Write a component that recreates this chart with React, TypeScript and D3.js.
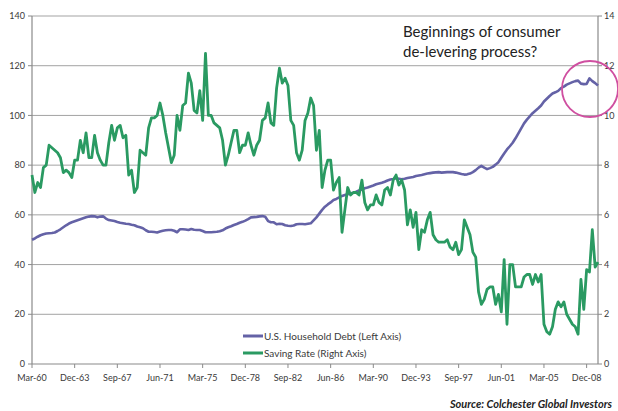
import React from "react";
import * as d3 from "d3";

// Quarterly data, Q1 1960 .. Q4 2009 (200 quarters)
const householdDebt: number[] = [
  50.0, 50.5, 51.2, 51.8, 52.2, 52.5, 52.6, 52.7, 52.9, 53.5,
  54.2, 55.0, 55.8, 56.5, 57.0, 57.4, 57.8, 58.2, 58.6, 59.0,
  59.3, 59.5, 59.4, 59.0, 59.3, 59.4, 58.5, 57.9, 57.7, 57.5,
  57.1, 56.8, 56.6, 56.4, 56.3, 56.0, 55.8, 55.3, 55.0, 54.6,
  53.8, 53.2, 53.2, 53.1, 52.9, 53.3, 53.6, 53.8, 53.9, 53.9,
  53.6, 53.0, 54.2, 54.2, 54.1, 53.9, 54.3, 54.0, 53.9, 53.9,
  53.5, 53.0, 53.0, 53.0, 53.1, 53.2, 53.4, 53.8, 54.5, 55.0,
  55.4, 55.9, 56.3, 56.8, 57.2, 57.7, 58.3, 59.0, 59.1, 59.2,
  59.4, 59.5, 59.2, 57.5, 57.0, 57.0, 56.2, 56.4, 56.3, 55.8,
  55.6, 55.5, 55.7, 56.2, 56.3, 56.3, 56.2, 56.4, 56.6, 57.8,
  59.0, 60.5, 62.0, 63.3, 64.2, 65.0, 66.0, 66.4, 67.0, 67.6,
  68.0, 68.3, 68.7, 68.9, 69.3, 69.8, 70.2, 70.7, 71.0, 71.4,
  71.8, 72.3, 72.6, 72.9, 73.3, 73.8, 74.2, 74.4, 74.7, 74.5,
  74.3, 74.5, 74.8, 75.0, 75.2, 75.6, 75.8, 76.0, 76.3, 76.6,
  76.8, 77.0, 77.1, 77.2, 77.0, 77.1, 77.2, 77.2, 77.2, 77.0,
  76.7, 76.4, 76.2, 76.3, 76.6, 77.2, 78.0, 79.0, 79.7, 79.0,
  78.4, 78.8, 79.3, 80.2, 81.2, 83.0, 84.7, 86.3, 87.6, 89.0,
  90.8, 92.8, 94.8, 96.8, 98.3, 99.6, 100.9, 101.9, 102.9, 104.0,
  105.6, 106.7, 107.8, 108.8, 109.3, 109.9, 111.0, 111.6, 112.4, 112.9,
  113.4, 113.8, 114.0, 112.8, 112.6, 112.7, 114.9, 113.8, 113.0, 112.0,
];

const savingRate: number[] = [
  7.6, 6.9, 7.3, 7.1, 7.9, 8.0, 8.8, 8.7, 8.6, 8.5,
  8.3, 7.7, 7.8, 7.7, 7.5, 8.2, 8.2, 9.0, 8.5, 9.3,
  8.3, 8.3, 9.2, 8.5, 8.2, 8.0, 8.0, 8.9, 9.6, 9.0,
  9.5, 9.6, 9.1, 9.2, 7.6, 7.8, 6.9, 7.1, 8.6, 8.5,
  8.4, 9.5, 9.9, 9.9, 10.0, 10.5, 10.0, 9.3, 8.7, 8.1,
  8.4, 10.0, 9.4, 10.4, 10.5, 11.7, 11.3, 10.2, 10.1, 11.0,
  9.8, 12.5, 10.0, 10.0, 9.7, 9.6, 9.5, 9.0, 8.0, 8.4,
  8.9, 9.4, 9.4, 8.5, 8.8, 8.8, 9.3, 8.8, 8.4, 8.8,
  9.0, 9.8, 9.9, 10.5, 9.7, 9.6, 11.1, 11.9, 11.3, 11.5,
  11.2, 9.8, 9.6, 8.5, 8.2, 8.6, 9.8, 10.1, 10.7, 10.4,
  8.6, 9.4, 7.1, 7.8, 8.2, 8.2, 7.0, 7.3, 7.5, 5.3,
  6.2, 7.1, 6.8, 6.9, 6.9, 6.8, 7.4, 6.5, 6.2, 6.4,
  6.4, 6.8, 6.5, 6.4, 7.0, 7.1, 6.8, 7.4, 7.6, 7.2,
  7.4, 7.0, 5.6, 6.2, 5.5, 6.1, 4.6, 5.4, 5.3, 5.8,
  6.1, 5.2, 5.0, 4.9, 4.9, 4.9, 5.0, 4.7, 4.6, 4.9,
  4.4, 4.6, 5.8, 5.5, 5.2, 4.5, 4.3, 2.9, 2.4, 2.6,
  3.0, 3.1, 3.1, 2.4, 2.8, 2.1, 4.2, 1.6, 4.0, 4.0,
  3.1, 3.1, 3.1, 3.5, 3.6, 3.6, 3.2, 3.6, 3.3, 3.6,
  1.6, 1.3, 1.2, 1.5, 2.2, 2.5, 2.3, 2.5, 2.0, 1.8,
  1.6, 1.5, 1.2, 3.4, 2.2, 3.8, 3.7, 5.4, 3.9, 4.1,
];

const xTickLabels: string[] = [
  "Mar-60", "Dec-63", "Sep-67", "Jun-71", "Mar-75", "Dec-78", "Sep-82",
  "Jun-86", "Mar-90", "Dec-93", "Sep-97", "Jun-01", "Mar-05", "Dec-08",
];
const leftTicks: number[] = [0, 20, 40, 60, 80, 100, 120, 140];
const rightTicks: number[] = [0, 2, 4, 6, 8, 10, 12, 14];
const seriesNames: string[] = ["U.S. Household Debt (Left Axis)", "Saving Rate (Right Axis)"];
const annotationLines: string[] = ["Beginnings of consumer", "de-levering process?"];
const sourceText = "Source:  Colchester Global Investors";

const W = 618;
const H = 411;
const plotLeft = 32;
const plotRight = 598;
const plotTop = 16;
const plotBottom = 364;
const tickEvery = 15;

const DEBT_COLOR = "#6462a6";
const SAVE_COLOR = "#2a9a62";
const FONT = "Lato, 'Open Sans', 'DejaVu Sans', sans-serif";

export default function App() {
  const n = householdDebt.length;
  const x = d3.scaleLinear().domain([0, n - 1]).range([plotLeft, plotRight]);
  const yL = d3.scaleLinear().domain([0, 140]).range([plotBottom, plotTop]);
  const yR = d3.scaleLinear().domain([0, 14]).range([plotBottom, plotTop]);

  const debtLine = d3.line<number>().x((_, i) => x(i)).y((d) => yL(d));
  const saveLine = d3.line<number>().x((_, i) => x(i)).y((d) => yR(d));

  const gridColor = "#a3a3a3";
  const axisColor = "#8a8a8a";
  const textColor = "#3a3a3a";

  return (
    <svg
      width={W}
      height={H}
      style={{ position: "absolute", left: 0, top: 0, background: "#fff" }}
      fontFamily={FONT}
    >
      <rect x={0} y={0} width={W} height={H} fill="#fff" />
      {leftTicks.filter((t) => t > 0).map((t) => (
        <line key={"g" + t} x1={plotLeft} x2={plotRight} y1={yL(t)} y2={yL(t)} stroke={gridColor} strokeWidth={1} />
      ))}
      <line x1={plotLeft} x2={plotLeft} y1={plotTop} y2={plotBottom} stroke={axisColor} strokeWidth={1.2} />
      <line x1={plotRight} x2={plotRight} y1={plotTop} y2={plotBottom} stroke={axisColor} strokeWidth={1.2} />
      <line x1={plotLeft} x2={plotRight} y1={plotBottom} y2={plotBottom} stroke={axisColor} strokeWidth={1.2} />
      {leftTicks.map((t) => (
        <g key={"l" + t}>
          <line x1={plotLeft - 4} x2={plotLeft} y1={yL(t)} y2={yL(t)} stroke={axisColor} />
          <text x={plotLeft - 7} y={yL(t)} dy="0.35em" textAnchor="end" fontSize={9} fill={textColor}>{t}</text>
        </g>
      ))}
      {rightTicks.map((t) => (
        <g key={"r" + t}>
          <line x1={plotRight} x2={plotRight + 4} y1={yR(t)} y2={yR(t)} stroke={axisColor} />
          <text x={plotRight + 6} y={yR(t)} dy="0.35em" textAnchor="start" fontSize={9} fill={textColor}>{t}</text>
        </g>
      ))}
      {xTickLabels.map((lab, k) => {
        const xi = x(k * tickEvery);
        return (
          <g key={lab}>
            <line x1={xi} x2={xi} y1={plotBottom} y2={plotBottom + 4} stroke={axisColor} />
            <text x={xi} y={plotBottom + 17} textAnchor="middle" fontSize={9} fill={textColor}>{lab}</text>
          </g>
        );
      })}
      <path d={debtLine(householdDebt) || ""} fill="none" stroke={DEBT_COLOR} strokeWidth={2.6} strokeLinejoin="round" />
      <path d={saveLine(savingRate) || ""} fill="none" stroke={SAVE_COLOR} strokeWidth={2.8} strokeLinejoin="round" />
      <line x1={243} x2={263} y1={336} y2={336} stroke={DEBT_COLOR} strokeWidth={3} />
      <text x={264} y={336} dy="0.35em" fontSize={10} fill={textColor}>{seriesNames[0]}</text>
      <line x1={243} x2={263} y1={353} y2={353} stroke={SAVE_COLOR} strokeWidth={3} />
      <text x={264} y={353} dy="0.35em" fontSize={10} fill={textColor}>{seriesNames[1]}</text>
      {annotationLines.map((l, i) => (
        <text key={l} x={403} y={37 + i * 20} fontSize={15} fill="#222">{l}</text>
      ))}
      <circle cx={590} cy={89} r={28} fill="none" stroke="#cf4fa0" strokeWidth={1.8} />
      <text x={612} y={408} textAnchor="end" fontSize={11} fontWeight="bold" fontStyle="italic" fill="#222">{sourceText}</text>
    </svg>
  );
}
